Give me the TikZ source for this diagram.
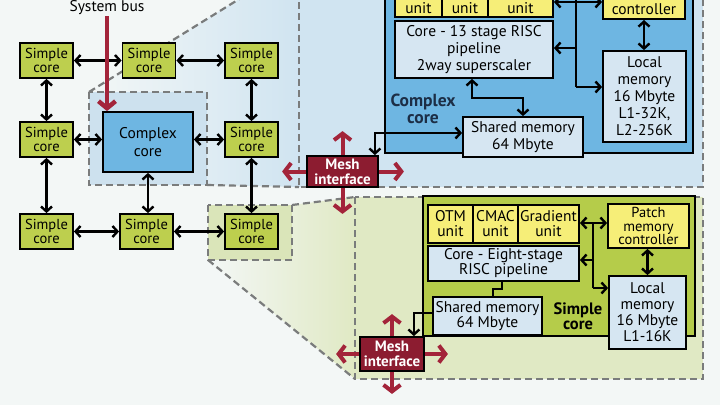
\documentclass[tikz,border=0pt]{standalone}
\usepackage{fontspec}
\setmainfont{PT Sans}
\usepackage{tikz}
\usetikzlibrary{arrows.meta,positioning,calc}
\definecolor{bgcol}{RGB}{243,247,246}
\definecolor{simplegreen}{RGB}{189,207,78}
\definecolor{complexblue}{RGB}{110,182,226}
\definecolor{regionblue}{RGB}{208,228,241}
\definecolor{boxblue}{RGB}{205,225,238}
\definecolor{memblue}{RGB}{214,230,242}
\definecolor{unityellow}{RGB}{246,238,120}
\definecolor{coregreen}{RGB}{181,204,74}
\definecolor{regiongreen}{RGB}{224,233,196}
\definecolor{boxgreen}{RGB}{218,229,185}
\definecolor{meshred}{RGB}{140,28,48}
\definecolor{arrowred}{RGB}{163,36,58}
\definecolor{dashgray}{RGB}{122,124,124}
\definecolor{labelnavy}{RGB}{28,46,70}
\tikzset{%
	simple/.style   = {draw, line width=1.8pt, fill=simplegreen, minimum width=53pt, minimum height=35pt, inner sep=0pt, align=center, font=\fontsize{14.5}{14.5}\selectfont},
	complex/.style  = {draw, line width=1.8pt, fill=complexblue, minimum width=90pt, minimum height=60pt, inner sep=0pt, align=center, font=\fontsize{15.5}{18}\selectfont},
	unitbox/.style  = {draw, line width=1.8pt, fill=unityellow, inner sep=0pt, align=center, font=\fontsize{15.5}{15}\selectfont},
	membox/.style   = {draw, line width=1.8pt, fill=memblue, inner sep=0pt, align=center, font=\fontsize{15.5}{17}\selectfont},
	meshbox/.style  = {draw, line width=1.8pt, fill=meshred, text=white, inner sep=0pt, align=center, font=\bfseries\fontsize{15}{15}\selectfont},
	region/.style   = {draw=dashgray, dash pattern=on 7pt off 4pt, line width=2.2pt},
	link/.style     = {line width=2.4pt},
	meshlink/.style = {draw=arrowred, line width=4pt, -{Straight Barb[length=6.5pt,width=17pt]}},
	label/.style    = {align=center, font=\bfseries\fontsize{17.5}{17}\selectfont},
}

\begin{document}
\begin{tikzpicture}[x=1pt,y=-1pt,>={Straight Barb[length=5pt,width=11pt]}]
	\useasboundingbox[fill=bgcol] (0,0) rectangle (720,405);
	% zoom funnels
	\shade[left color=bgcol, right color=regionblue] (89,92) -- (299,-38) -- (299,187) -- (207,185) -- cycle;
	\shade[left color=bgcol, right color=regiongreen] (208,205) -- (292,205) -- (355,197) -- (355,379) -- (208,260) -- cycle;
	% detail regions
	\draw[region, fill=regionblue] (299,-20) rectangle (703,187);
	\draw[region, fill=regiongreen] (355,197) rectangle (703,379);
	\draw[region] (89,92) -- (299,-38);
	\draw[region] (207,185) -- (299,187);
	\draw[region] (292,205) -- (355,197);
	\draw[region] (208,260) -- (355,379);
	\draw[region, fill=boxblue] (89,92) rectangle (207,185);
	\draw[region, fill=boxgreen] (208,205) rectangle (292,260);

	% mesh of cores
	\node[simple] (sc11) at (46.5,60.5) {Simple\\core};
	\node[simple] (sc12) at (149,60.5) {Simple\\core};
	\node[simple] (sc13) at (251.5,60.5) {Simple\\core};
	\node[simple] (sc21) at (46.5,139.5) {Simple\\core};
	\node[complex] (cc) at (148,142) {Complex\\core};
	\node[simple] (sc23) at (251.5,139.5) {Simple\\core};
	\node[simple] (sc31) at (46.5,231.5) {Simple\\core};
	\node[simple] (sc32) at (146.5,231.5) {Simple\\core};
	\node[simple] (sc33) at (251.5,231.5) {Simple\\core};

	\draw[link,<->] (sc11) -- (sc12);
	\draw[link,<->] (sc12) -- (sc13);
	\draw[link,<->] (sc11) -- (sc21);
	\draw[link,<->] (sc13) -- (sc23);
	\draw[link,<->] (sc21.east) -- (sc21.east -| cc.west);
	\draw[link,<->] (sc23.west -| cc.east) -- (sc23.west);
	\draw[link,<->] (sc21) -- (sc31);
	\draw[link,<->] (cc.south) -- (cc.south |- sc32.north);
	\draw[link,<->] (sc23) -- (sc33);
	\draw[link,<->] (sc31) -- (sc32);
	\draw[link,<->] (sc32) -- (sc33);

	% system bus
	\coordinate (bustop) at (107,-5);
	\draw[draw=arrowred, line width=4.5pt, -{Straight Barb[length=7pt,width=17pt]}] (bustop) -- (cc.north -| bustop);
	\node[fill=bgcol, inner sep=1pt, font=\fontsize{15.5}{16}\selectfont] (sysbus) at (107,8) {System bus};

	% complex core in detail
	\draw[line width=1.8pt, fill=complexblue] (385,-20) rectangle (693,153);
	\node[unitbox, minimum width=47pt, text height=36pt, text depth=4pt, anchor=south] (u1) at (418.5,18) {unit};
	\node[unitbox, minimum width=46pt, text height=36pt, text depth=4pt, anchor=south] (u2) at (465,18) {unit};
	\node[unitbox, minimum width=65pt, text height=36pt, text depth=4pt, anchor=south] (u3) at (520.5,18) {unit};
	\node[unitbox, minimum width=82pt, text height=36pt, text depth=5pt, anchor=south] (ctrl) at (644,20) {controller};
	\node[membox, minimum width=158pt, minimum height=57pt] (core13) at (474,49.5) {Core - 13 stage RISC\\pipeline\\2way superscaler};
	\node[membox, minimum width=83pt, minimum height=91pt] (lmem1) at (644.5,96.5) {Local\\memory\\16 Mbyte\\L1-32K,\\L2-256K};
	\node[membox, minimum width=120pt, minimum height=40pt] (smem1) at (523,137) {Shared memory\\64 Mbyte};
	\node[label, text=labelnavy] (cclabel) at (423,108.5) {Complex\\core};
	\node[meshbox, minimum width=71pt, minimum height=31pt] (mesh1) at (342.5,171.5) {Mesh\\interface};

	\coordinate (b1top) at (576,-10);
	\coordinate (b1a) at (576,2);
	\coordinate (b1b) at (576,48);
	\coordinate (b1c) at (576,87);
	\draw[link] (b1top) -- (b1c);
	\draw[link,->] (b1a) -- (u3.east |- b1a);
	\draw[link,->] (b1a) -- (ctrl.west |- b1a);
	\draw[link,->] (b1b) -- (core13.east |- b1b);
	\draw[link,->] (b1c) -- (lmem1.west |- b1c);
	\draw[link,<->] (ctrl.south) -- (ctrl.south |- lmem1.north);
	\draw[link,<->] ([xshift=-2pt]core13.south) -- ++(0,19) -| (smem1.north);
	\draw[link,<->] ([yshift=4pt]smem1.west) -| ([xshift=-4pt]mesh1.north east);

	\draw[meshlink] (mesh1.north) -- ++(0,-24);
	\draw[meshlink] (mesh1.west) -- ++(-24,0);
	\draw[meshlink] (mesh1.east) -- ++(25,0);
	\draw[meshlink] (mesh1.south) -- ++(0,26);

	% simple core in detail
	\draw[line width=1.8pt, fill=coregreen] (423,196) rectangle (695,336);
	\node[unitbox, minimum width=45pt, minimum height=38pt] (otm) at (450.5,224) {OTM\\unit};
	\node[unitbox, minimum width=45pt, minimum height=38pt] (cmac) at (495.5,224) {CMAC\\unit};
	\node[unitbox, minimum width=61pt, minimum height=38pt] (grad) at (548.5,224) {Gradient\\unit};
	\node[unitbox, minimum width=81pt, minimum height=44pt, font=\fontsize{14.5}{13.8}\selectfont] (patch) at (648.5,226) {Patch\\memory\\controller};
	\node[membox, minimum width=151pt, minimum height=35pt, font=\fontsize{15.5}{15}\selectfont] (core8) at (503.5,263.5) {Core - Eight-stage\\RISC pipeline};
	\node[membox, minimum width=77pt, minimum height=73pt, font=\fontsize{15.5}{16}\selectfont] (lmem2) at (647.5,312.5) {Local\\memory\\16 Mbyte\\L1-16K};
	\node[membox, minimum width=109pt, minimum height=38pt, font=\fontsize{15.5}{15}\selectfont] (smem2) at (487.5,316) {Shared memory\\64 Mbyte};
	\node[label, font=\bfseries\fontsize{16.5}{15}\selectfont] (sclabel) at (578,316) {Simple\\core};
	\node[meshbox, minimum width=64pt, minimum height=34pt] (mesh2) at (392,354) {Mesh\\interface};

	\coordinate (b2a) at (593,223);
	\coordinate (b2b) at (593,260);
	\coordinate (b2c) at (593,288);
	\draw[link] (b2a) -- (b2c);
	\draw[link,->] (b2a) -- (grad.east |- b2a);
	\draw[link,->] (b2a) -- (patch.west |- b2a);
	\draw[link,->] (b2b) -- (core8.east |- b2b);
	\draw[link,->] (b2c) -- (lmem2.west |- b2c);
	\draw[link,<->] ([xshift=-1pt]patch.south) -- ([xshift=-1pt]patch.south |- lmem2.north);
	\draw[link] ([xshift=-1.5pt]core8.south) -- ++(0,7) -| ([xshift=5.5pt]smem2.north);
	\draw[link,->] ([yshift=3pt]smem2.west) -| ([xshift=-11pt]mesh2.north east);

	\draw[meshlink] (mesh2.north) -- ++(0,-22);
	\draw[meshlink] (mesh2.west) -- ++(-23,0);
	\draw[meshlink] (mesh2.east) -- ++(23,0);
	\draw[meshlink] (mesh2.south) -- ++(0,22);
\end{tikzpicture}
\end{document}
